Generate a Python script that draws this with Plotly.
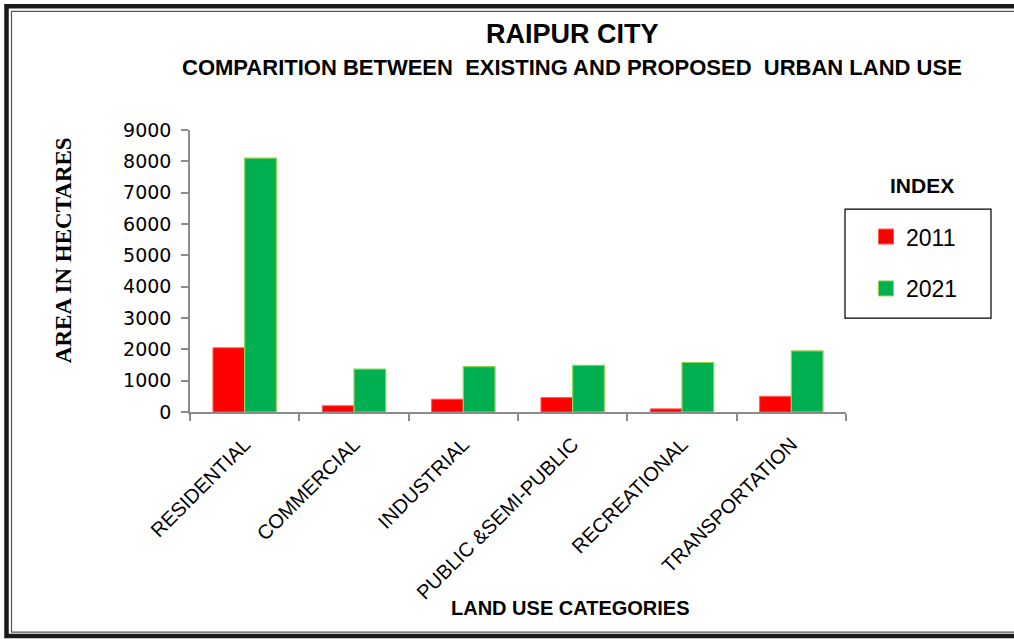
import plotly.graph_objects as go

categories = ["RESIDENTIAL", "COMMERCIAL", "INDUSTRIAL", "PUBLIC &SEMI-PUBLIC",
              "RECREATIONAL", "TRANSPORTATION"]
values_2011 = [2050, 200, 410, 460, 100, 500]
values_2021 = [8100, 1370, 1450, 1490, 1580, 1950]
y_ticks = [0, 1000, 2000, 3000, 4000, 5000, 6000, 7000, 8000, 9000]

RED = "#FF0000"
GREEN = "#00B050"

# plot area in pixels
PL, PR, PT, PB = 190, 846, 130, 411.7
W, H = 1014, 639


def px(x):
    return (x - PL) / (PR - PL)


def py(y):
    return (PB - y) / (PB - PT)


fig = go.Figure()
fig.add_trace(go.Bar(x=categories, y=values_2011, name="2011", showlegend=False,
                     marker=dict(color=RED, line=dict(color="#FF5A5A", width=1))))
fig.add_trace(go.Bar(x=categories, y=values_2021, name="2021", showlegend=False,
                     marker=dict(color=GREEN, line=dict(color="#92D050", width=1.2))))
# legend entries
fig.add_trace(go.Scatter(x=[None], y=[None], mode="markers", name="2011", legendgroup="a",
                         marker=dict(symbol="square", size=15, color=RED,
                                     line=dict(color="#FF5A5A", width=1))))
fig.add_trace(go.Scatter(x=[None], y=[None], mode="markers", name="2021", legendgroup="b",
                         marker=dict(symbol="square", size=15, color=GREEN,
                                     line=dict(color="#92D050", width=1))))

sans = "Liberation Sans"


def note(text, x, y, size, family=sans, angle=0):
    return dict(text=text, x=px(x), y=py(y), xref="paper", yref="paper",
                xanchor="center", yanchor="middle", textangle=angle,
                showarrow=False, font=dict(family=family, size=size, color="#000000"))


annotations = [
    note("<b>RAIPUR CITY</b>", 572, 34, 27),
    note("<b>COMPARITION BETWEEN  EXISTING AND PROPOSED  URBAN LAND USE</b>", 572, 68, 22),
    note("<b>AREA IN HECTARES</b>", 63, 250, 23, family="Liberation Serif", angle=-90),
    note("<b>LAND USE CATEGORIES</b>", 570, 607, 20),
    note("<b>INDEX</b>", 922, 185, 21),
]

shapes = [
    # legend box
    dict(type="rect", xref="paper", yref="paper", x0=px(845), x1=px(991), y0=py(318), y1=py(209),
         line=dict(color="#000000", width=1.2)),
    # outer frame (thick)
    dict(type="rect", xref="paper", yref="paper", x0=px(6.5), x1=px(1030), y0=py(635.5), y1=py(6.5),
         line=dict(color="#1a1a1a", width=4.5)),
    # inner frame (thin)
    dict(type="rect", xref="paper", yref="paper", x0=px(11.5), x1=px(1030), y0=py(631.5), y1=py(11.5),
         line=dict(color="#555555", width=1.2)),
]

fig.update_layout(
    width=W, height=H,
    margin=dict(l=PL, r=W - PR, t=PT, b=H - PB),
    paper_bgcolor="white", plot_bgcolor="white",
    barmode="group", bargap=0.42, bargroupgap=0,
    showlegend=True,
    legend=dict(x=px(866), y=py(215), xanchor="left", yanchor="top",
                traceorder="grouped", tracegroupgap=19,
                font=dict(family=sans, size=23, color="#000000"),
                bgcolor="rgba(0,0,0,0)", borderwidth=0, itemsizing="trace"),
    annotations=annotations,
    shapes=shapes,
    xaxis=dict(showline=True, linecolor="#8C8C8C", linewidth=1.5,
               ticks="outside", tickson="boundaries", ticklen=7, tickcolor="#8C8C8C",
               tickwidth=1.5, tickangle=-45, showgrid=False, ticklabelstandoff=11,
               tickfont=dict(family=sans, size=20, color="#000000")),
    yaxis=dict(range=[0, 9000], tickvals=y_ticks, showline=True, linecolor="#8C8C8C",
               linewidth=1.5, ticks="outside", ticklen=7, tickcolor="#8C8C8C", tickwidth=1.5,
               showgrid=False, zeroline=False, ticklabelstandoff=6,
               tickfont=dict(family="DejaVu Sans", size=19, color="#000000")),
)

fig.write_html("out.html", config={"displayModeBar": False},
               post_script="document.body.style.margin='0';")
